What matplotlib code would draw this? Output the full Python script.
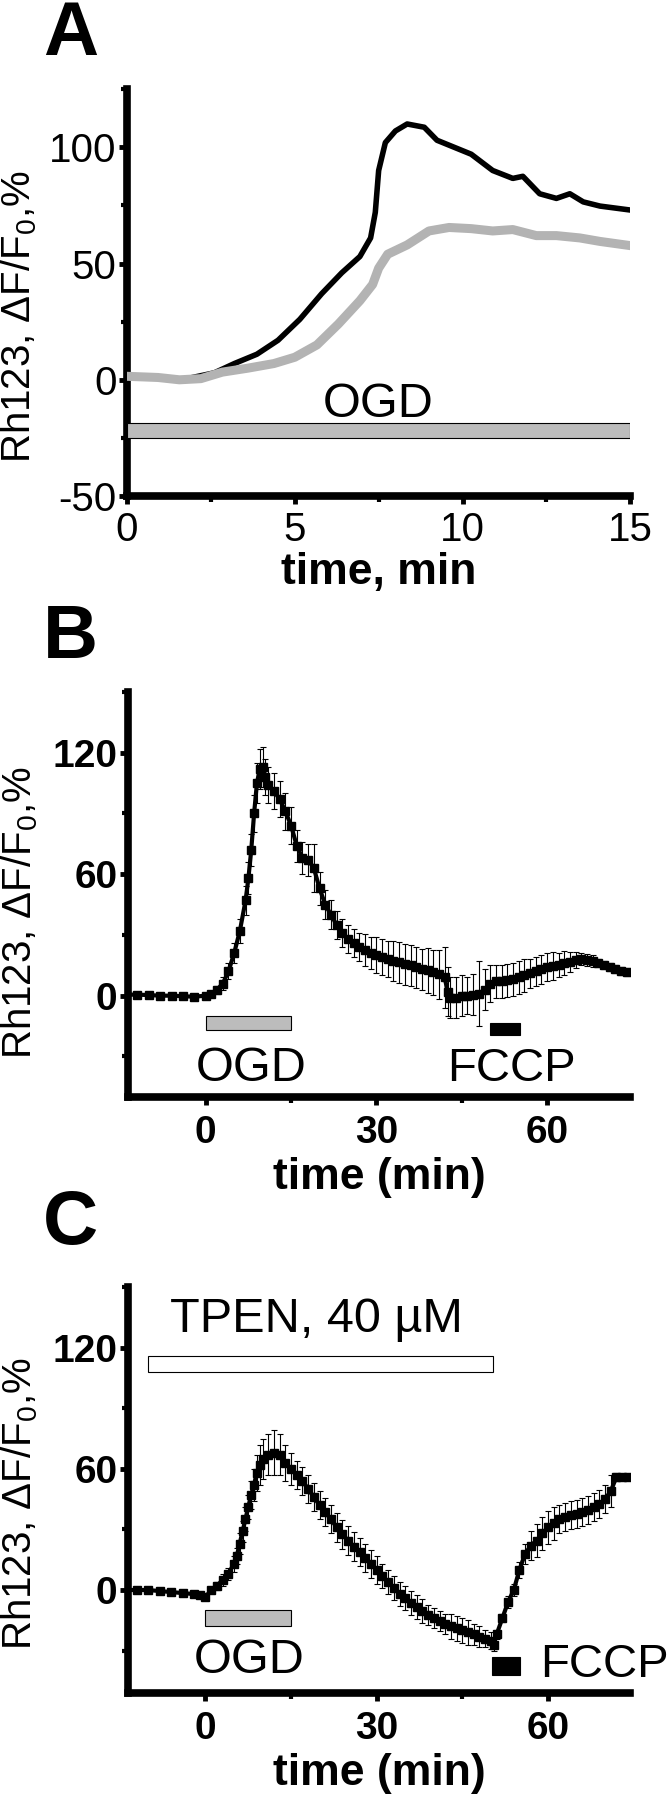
import matplotlib
matplotlib.use("Agg")
import matplotlib.pyplot as plt

plt.rcParams['font.family'] = ['Liberation Sans', 'DejaVu Sans']
plt.rcParams['mathtext.fontset'] = 'custom'
plt.rcParams['mathtext.rm'] = 'Liberation Sans'
plt.rcParams['mathtext.it'] = 'Liberation Sans'
plt.rcParams['axes.unicode_minus'] = False

# Panel A: two single-cell traces, time in min
a_t_black = [1.95, 2.6, 3.2, 3.87, 4.5, 5.15, 5.8, 6.4, 6.94, 7.26, 7.4, 7.5, 7.7, 8.0, 8.35,
             8.86, 9.24, 9.75, 10.26, 10.9, 11.5, 11.8, 12.3, 12.8, 13.2, 13.6, 14.1, 15]
a_v_black = [1, 3, 7, 11, 17, 26, 37, 46, 53, 61, 72, 90, 102, 107, 110,
             108.6, 103, 100, 97, 90, 86.6, 87.5, 80, 78, 80, 76.5, 74.7, 73]
a_t_gray = [0, 0.92, 1.56, 2.2, 2.84, 3.6, 4.38, 5.0, 5.66, 6.3, 6.94, 7.32, 7.5, 7.77, 8.35,
            9.0, 9.6, 10.26, 10.9, 11.5, 12.2, 12.8, 13.5, 14.1, 15]
a_v_gray = [1.5, 1, 0, 0.5, 3.3, 5, 7, 9.7, 15, 24, 34, 41, 48, 54, 58,
            64, 65.5, 65, 64, 64.6, 62, 62, 61, 59.5, 57.7]
a_ogd = (0, 15)

# Panel B: mean +- error
b_t = [-14, -12, -10, -8, -6, -4, -2, 0, 1, 2, 3, 4, 5, 6, 7, 7.5, 8, 8.5, 9, 9.5, 10, 10.5, 11,
       12, 13, 14, 15, 16, 17, 18, 19, 20, 21, 22, 23, 24, 25, 26, 27, 28, 29, 30, 31, 32, 33,
       34, 35, 36, 37, 38, 39, 40, 41, 42, 42.5, 43, 44, 45, 46, 47, 48, 49, 50, 51, 52, 53,
       54, 55, 56, 57, 58, 59, 60, 61, 62, 63, 64, 65, 66, 67, 68, 69, 70, 71, 72, 73, 74]
b_v = [0.5, 0.5, 0.3, 0, 0, -0.3, -0.5, 0, 1, 3, 6, 12, 21, 32, 47, 58, 72, 90, 105, 112, 113,
       108, 104, 101, 97, 91, 84, 74, 68, 67, 63, 53, 45, 40, 35, 31, 28, 26, 24, 22.5, 21, 20,
       19, 18, 17, 16.5, 15.5, 15, 14, 13, 12.5, 11.5, 10.5, 9, 2, -1, -1, 0, 0, 0.5, 1, 3, 6,
       7, 7, 7.5, 8, 9, 10, 11, 12, 13, 14, 14.5, 15, 16, 16.5, 17.5, 18, 17.5, 17, 16, 15, 14,
       13, 12, 11.5]
b_e = [1, 1, 1, 1, 1, 1, 1, 1, 1.5, 2, 3, 4, 5, 6, 7, 8, 8, 9, 10, 10, 10, 9, 9,
       9, 9, 9, 9, 8, 8, 8, 12, 8, 7, 7, 7, 7, 7, 7, 7, 8, 8, 9, 9, 9, 10, 10, 10, 10, 10,
       10, 11, 11, 12, 15, 12, 10, 10, 10, 9, 10, 16, 10, 9, 8, 8, 8, 8, 8, 8, 7, 7, 7, 7, 7,
       6, 6, 5, 4, 3, 3, 3, 2, 2, 2, 2, 2, 2]
b_ogd = (0, 15)
b_fccp = (50, 55.3)

# Panel C: mean +- error, with TPEN
c_t = [-14, -12, -10, -8, -6, -4, -2, -1, 0, 1, 2, 3, 4, 5, 5.5, 6, 6.5, 7, 7.5, 8, 8.5, 9, 9.5,
       10, 11, 12, 13, 14, 15, 16, 17, 18, 19, 20, 21, 22, 23, 24, 25, 26, 27, 28, 29, 30, 31,
       32, 33, 34, 35, 36, 37, 38, 39, 40, 41, 42, 43, 44, 45, 46, 47, 48, 49, 50, 50.5, 51,
       52, 53, 54, 55, 56, 57, 58, 59, 60, 61, 62, 63, 64, 65, 66, 67, 68, 69, 70, 71, 72, 73,
       74]
c_v = [0, 0, 0, -0.5, -1, -1.5, -2, -2.5, -3.5, 0, 2, 5, 8, 13, 17, 23, 29, 35, 41, 47, 52, 58,
       62, 65, 67, 68, 67, 63, 60, 57, 54, 50, 46, 42, 38.5, 35, 31, 27.5, 24.5, 21.5, 19, 16,
       13, 10, 7, 4, 1, -2, -4, -6.5, -8.5, -10.5, -12.5, -14, -15.5, -17, -18, -19, -20, -21,
       -22, -23, -24, -25, -27, -22, -14, -6, 0, 10, 18, 22, 24.5, 28, 31, 33, 35, 36, 37,
       37.5, 38.5, 39.5, 41, 42.5, 45, 49, 56, 56, 56]
c_e = [1, 1, 1, 1, 1, 1, 1, 1, 1, 1.5, 2, 3, 3, 4, 4, 5, 5, 6, 6, 7, 8, 9, 10, 10,
       10, 11, 10, 9, 8, 7, 7, 7, 7, 7, 7, 7, 7, 7, 7, 7, 7, 7, 7, 7, 6, 6, 6, 6, 6, 6, 6, 6,
       5, 5, 5, 5, 6, 6, 6, 6, 5, 5, 4, 4, 3, 2, 2, 3, 3, 4, 5, 7, 8, 8, 8, 8, 7, 7, 7, 7, 7,
       7, 7, 7, 7, 8, 2, 1, 1]
c_ogd = (0, 15)
c_fccp = (50.2, 55.1)
c_tpen = (-10, 50.4)

ylabel = r'Rh123, $\Delta$F/F$_{\mathregular{0}}$,%'
GRAY = '#bcbcbc'

fig = plt.figure(figsize=(6.69, 18), dpi=100)


def style(ax, bold, xpad):
    for s in ['top', 'right']:
        ax.spines[s].set_visible(False)
    for s in ['left', 'bottom']:
        ax.spines[s].set_linewidth(5.5)
        ax.spines[s].set_capstyle('projecting')
    ax.tick_params(which='major', length=5.5, width=3.5, labelsize=28 if bold else 29, pad=2)
    ax.tick_params(axis='x', which='major', pad=xpad)
    ax.tick_params(which='minor', length=4, width=3)
    w = 'bold' if bold else 'normal'
    for lab in ax.get_xticklabels() + ax.get_yticklabels():
        lab.set_fontweight(w)


def hbar(ax, span, y0, y1, color):
    ax.barh((y0 + y1) / 2, span[1] - span[0], left=span[0], height=y1 - y0,
            color=color, edgecolor='black', linewidth=0.8, zorder=3)


# ---- A ----
axA = fig.add_axes([0.190, 0.7244, 0.752, 0.2261])
axA.plot(a_t_black, a_v_black, color='black', lw=4, zorder=4)
axA.plot(a_t_gray, a_v_gray, color='#b3b3b3', lw=6.5, zorder=5)
hbar(axA, a_ogd, -25, -18.5, GRAY)
axA.text(7.5, -16, 'OGD', ha='center', va='baseline', fontsize=35)
axA.set_xlim(0, 15)
axA.set_ylim(-50, 125)
axA.set_xticks([0, 5, 10, 15])
axA.set_xticks([2.5, 7.5, 12.5], minor=True)
axA.set_yticks([-50, 0, 50, 100])
axA.set_yticks([-25, 25, 75, 125], minor=True)
style(axA, False, 5.5)
axA.set_xlabel('time, min', fontsize=32, fontweight='bold', labelpad=2)
axA.set_ylabel(ylabel, fontsize=29, va='center')
axA.yaxis.set_label_coords(-0.215, 0.44)

# ---- B ----
axB = fig.add_axes([0.191, 0.3906, 0.751, 0.225])
axB.errorbar(b_t, b_v, yerr=b_e, fmt='s-', color='black', ms=6, lw=3,
             elinewidth=0.8, capsize=2.5, capthick=0.8, zorder=4)
hbar(axB, b_ogd, -17, -10, GRAY)
hbar(axB, b_fccp, -19.6, -13.3, 'black')
axB.text(8, -36, 'OGD', ha='center', va='center', fontsize=35)
axB.text(53.8, -36, 'FCCP', ha='center', va='center', fontsize=34)
axB.set_xlim(-13.7, 74.6)
axB.set_ylim(-50, 150)
axB.set_xticks([0, 30, 60])
axB.set_xticks([15, 45], minor=True)
axB.set_yticks([0, 60, 120])
axB.set_yticks([-30, 30, 90, 150], minor=True)
style(axB, True, 7.5)
axB.set_xlabel('time (min)', fontsize=32, fontweight='bold', labelpad=4)
axB.set_ylabel(ylabel, fontsize=29, va='center')
axB.yaxis.set_label_coords(-0.215, 0.454)

# ---- C ----
axC = fig.add_axes([0.191, 0.0594, 0.751, 0.2256])
axC.errorbar(c_t, c_v, yerr=c_e, fmt='s-', color='black', ms=6, lw=3,
             elinewidth=0.8, capsize=2.5, capthick=0.8, zorder=4)
hbar(axC, c_ogd, -18, -10, GRAY)
hbar(axC, c_fccp, -42, -33, 'black')
hbar(axC, c_tpen, 108, 116, 'white')
axC.text(7.6, -35, 'OGD', ha='center', va='center', fontsize=35)
axC.text(58.7, -37, 'FCCP', ha='left', va='center', fontsize=34, clip_on=False)
axC.text(19.5, 134, 'TPEN, 40 \u00b5M', ha='center', va='center', fontsize=35)
axC.set_xlim(-13.6, 74.4)
axC.set_ylim(-51, 150)
axC.set_xticks([0, 30, 60])
axC.set_xticks([15, 45], minor=True)
axC.set_yticks([0, 60, 120])
axC.set_yticks([-30, 30, 90, 150], minor=True)
style(axC, True, 7.5)
axC.set_xlabel('time (min)', fontsize=32, fontweight='bold', labelpad=4)
axC.set_ylabel(ylabel, fontsize=29, va='center')
axC.yaxis.set_label_coords(-0.215, 0.466)

# panel letters
for letter, ybase in [('A', 55), ('B', 658), ('C', 1244)]:
    fig.text(43 / 669, 1 - ybase / 1800, letter, ha='left', va='baseline',
             fontsize=55, fontweight='bold')

fig.savefig('out.png', dpi=100)
